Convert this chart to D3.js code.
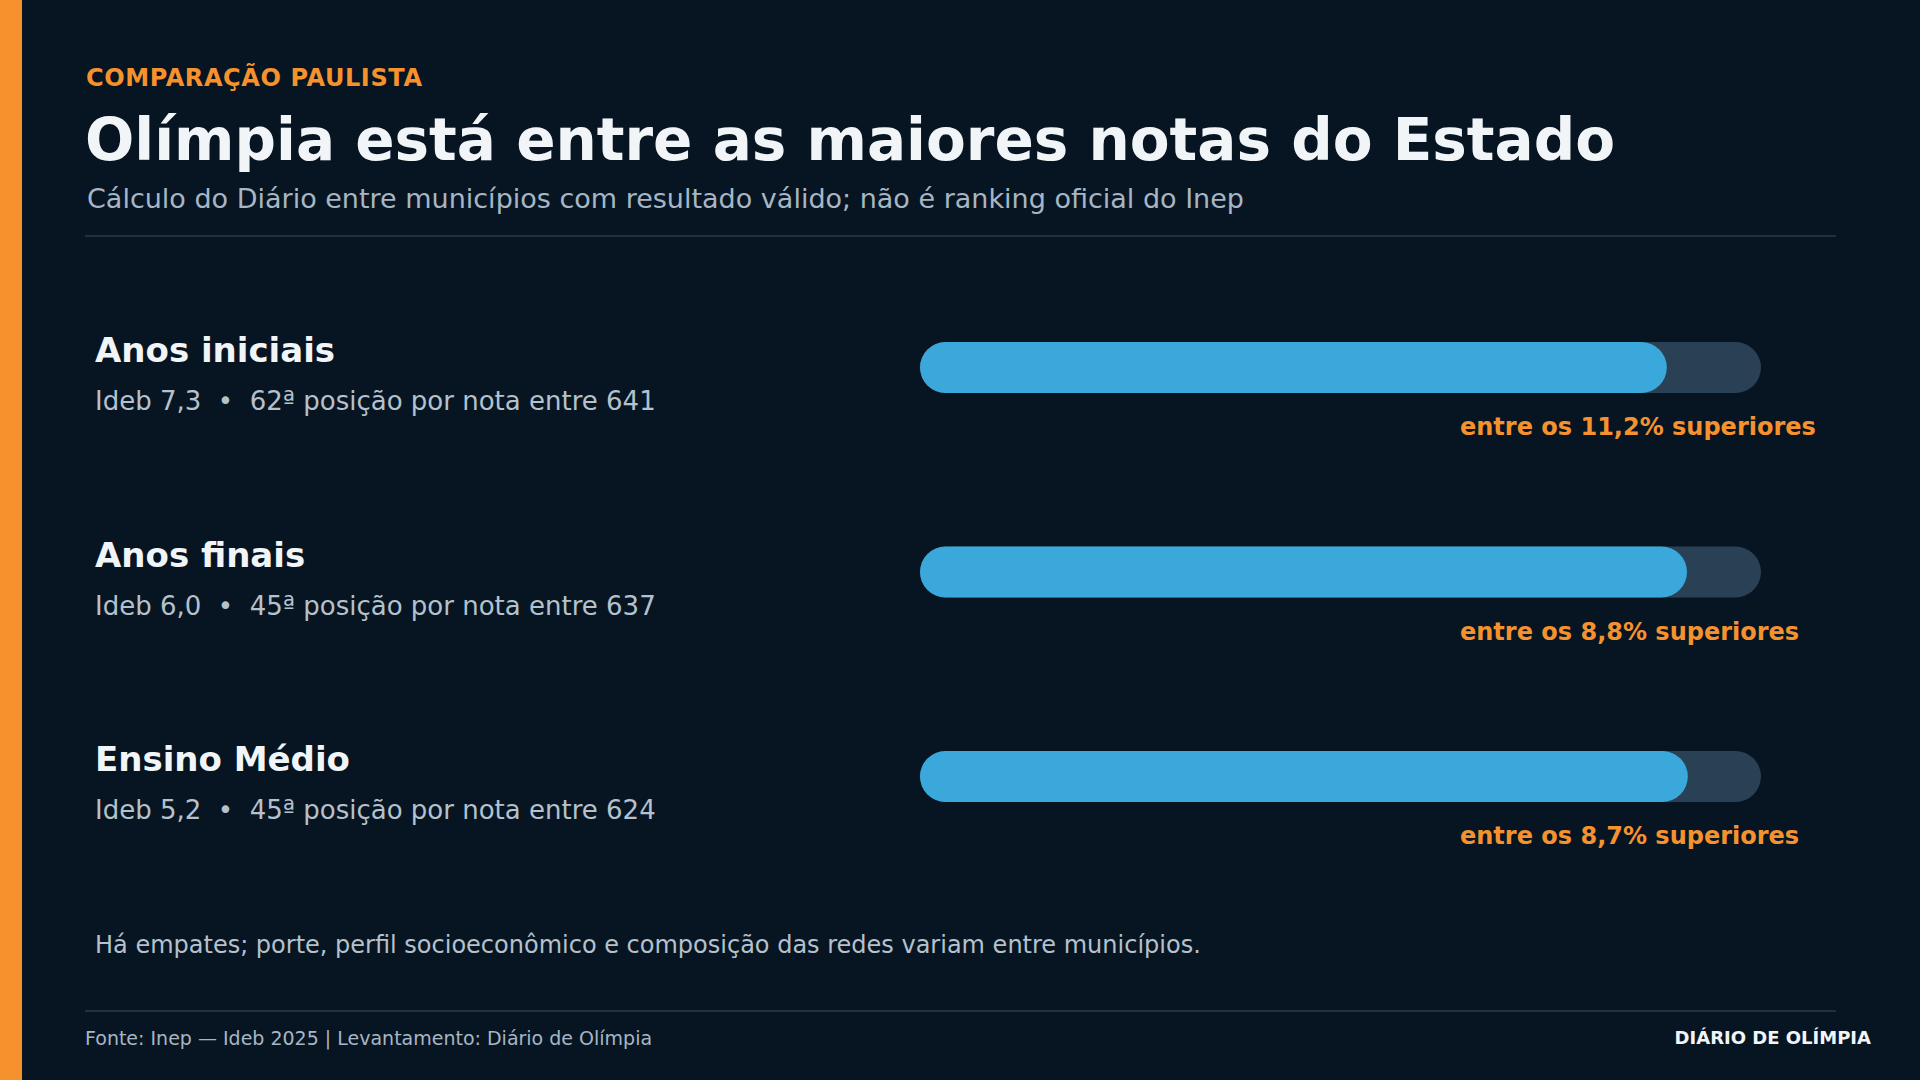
<!DOCTYPE html>
<html>
<head>
<meta charset="utf-8">
<script src="https://cdn.jsdelivr.net/npm/d3@7"></script>
<style>
  body { margin: 0; background: #071522; }
  svg { display: block; font-family: "DejaVu Sans", sans-serif; }
  .pre { white-space: pre; }
</style>
</head>
<body>
<svg id="chart"></svg>
<script>
// values
var categories = ["Anos iniciais", "Anos finais", "Ensino Médio"];
var idebScores = [7.3, 6.0, 5.2];
var ranks = [62, 45, 45];
var totals = [641, 637, 624];
var topShare = [11.2, 8.8, 8.7];

var kicker = "COMPARAÇÃO PAULISTA";
var title = "Olímpia está entre as maiores notas do Estado";
var subtitle = "Cálculo do Diário entre municípios com resultado válido; não é ranking oficial do Inep";
var footnote = "Há empates; porte, perfil socioeconômico e composição das redes variam entre municípios.";
var source = "Fonte: Inep — Ideb 2025 | Levantamento: Diário de Olímpia";
var brand = "DIÁRIO DE OLÍMPIA";

var screen = {width: 1920, height: 1080};
var colors = {
  bg: "#071522", orange: "#f5922e", white: "#f2f5f8",
  muted: "#a7b6c4", detail: "#b5c1cc", rule: "#2a3d4c",
  track: "#2a4055", fill: "#3aa8db"
};

var comma = function(v) { return d3.format(".1f")(v).replace(".", ","); };

var rows = categories.map(function(c, i) {
  return {name: c, ideb: idebScores[i], rank: ranks[i], total: totals[i], share: topShare[i]};
});

var svg = d3.select("#chart")
  .attr("width", screen.width)
  .attr("height", screen.height);

svg.append("rect")
  .attr("width", screen.width).attr("height", screen.height)
  .attr("fill", colors.bg);

svg.append("rect")
  .attr("width", 22).attr("height", screen.height)
  .attr("fill", colors.orange);

// header
var drawHeader = function() {
  svg.append("text")
    .text(kicker)
    .attr("x", 86).attr("y", 86)
    .attr("fill", colors.orange)
    .attr("font-size", 24).attr("font-weight", "bold")
    .attr("letter-spacing", 0.6);

  svg.append("text")
    .text(title)
    .attr("x", 85).attr("y", 160)
    .attr("fill", colors.white)
    .attr("font-size", 58).attr("font-weight", "bold");

  svg.append("text")
    .text(subtitle)
    .attr("x", 87).attr("y", 208)
    .attr("fill", colors.muted)
    .attr("font-size", 27);

  svg.append("line")
    .attr("x1", 85).attr("x2", 1836)
    .attr("y1", 236).attr("y2", 236)
    .attr("stroke", colors.rule).attr("stroke-width", 1.5);
}

var drawRows = function() {
  var yScale = d3.scalePoint()
    .domain(categories)
    .range([362, 771]);

  var xScale = d3.scaleLinear()
    .domain([0, 1])
    .range([920, 1761]);

  var barH = 51;

  var g = svg.selectAll("g.row")
    .data(rows)
    .enter()
    .append("g")
    .attr("class", "row")
    .attr("transform", function(d) { return "translate(0," + yScale(d.name) + ")"; });

  g.append("text")
    .text(function(d) { return d.name; })
    .attr("x", 95).attr("y", 0)
    .attr("fill", colors.white)
    .attr("font-size", 34).attr("font-weight", "bold");

  g.append("text")
    .attr("class", "pre")
    .text(function(d) {
      return "Ideb " + comma(d.ideb) + "  •  " + d.rank + "ª posição por nota entre " + d.total;
    })
    .attr("x", 95).attr("y", 48)
    .attr("fill", colors.detail)
    .attr("font-size", 26);

  g.append("rect")
    .attr("x", xScale(0)).attr("y", -20)
    .attr("width", xScale(1) - xScale(0)).attr("height", barH)
    .attr("rx", barH / 2)
    .attr("fill", colors.track);

  g.append("rect")
    .attr("x", xScale(0)).attr("y", -20)
    .attr("width", function(d) { return xScale(1 - d.share / 100) - xScale(0); })
    .attr("height", barH)
    .attr("rx", barH / 2)
    .attr("fill", colors.fill);

  g.append("text")
    .text(function(d) { return "entre os " + comma(d.share) + "% superiores"; })
    .attr("x", 1460).attr("y", 73)
    .attr("fill", colors.orange)
    .attr("font-size", 24).attr("font-weight", "bold");
}

var drawFooter = function() {
  svg.append("text")
    .text(footnote)
    .attr("x", 95).attr("y", 953)
    .attr("fill", colors.detail)
    .attr("font-size", 24);

  svg.append("line")
    .attr("x1", 85).attr("x2", 1836)
    .attr("y1", 1011).attr("y2", 1011)
    .attr("stroke", colors.rule).attr("stroke-width", 1.5);

  svg.append("text")
    .text(source)
    .attr("x", 85).attr("y", 1045)
    .attr("fill", colors.muted)
    .attr("font-size", 19);

  svg.append("text")
    .text(brand)
    .attr("x", 1871).attr("y", 1044)
    .attr("text-anchor", "end")
    .attr("fill", colors.white)
    .attr("font-size", 18).attr("font-weight", "bold");
}

drawHeader();
drawRows();
drawFooter();
</script>
</body>
</html>
